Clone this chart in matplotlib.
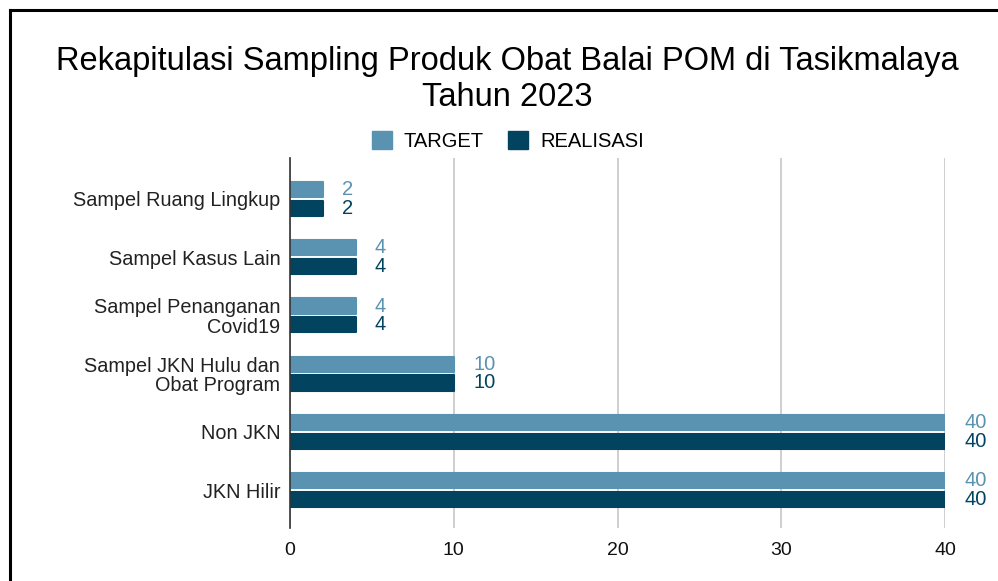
import matplotlib
matplotlib.use("Agg")
import matplotlib.pyplot as plt
import numpy as np
from matplotlib.lines import Line2D
from matplotlib.patches import Patch

plt.rcParams["font.family"] = ["Liberation Sans", "DejaVu Sans"]

categories = [
    "Sampel Ruang Lingkup",
    "Sampel Kasus Lain",
    "Sampel Penanganan\nCovid19",
    "Sampel JKN Hulu dan\nObat Program",
    "Non JKN",
    "JKN Hilir",
]
target = [2, 4, 4, 10, 40, 40]
realisasi = [2, 4, 4, 10, 40, 40]
series_names = ["TARGET", "REALISASI"]
x_ticks = [0, 10, 20, 30, 40]

c_target = "#5a93b1"
c_real = "#02445f"

fig = plt.figure(figsize=(9.98, 5.81), dpi=100)
ax = fig.add_axes([0.2906, 0.0912, 0.6563, 0.6368])

y = np.arange(len(categories))
h = 0.26
off = 0.16
for vals, shift, color in ((target, -off, c_target), (realisasi, off, c_real)):
    ax.barh(y + shift, vals, height=h, color=color, edgecolor=color,
            linewidth=1.5, joinstyle="round", zorder=3)
    for yi, v in zip(y, vals):
        ax.annotate(str(v), (v, yi + shift), xytext=(14, 0), textcoords="offset points",
                    ha="left", va="center", fontsize=14.5, color=color)

ax.set_xlim(0, 40)
ax.set_ylim(5.65, -0.70)
ax.set_yticks(y)
ax.set_yticklabels(categories, fontsize=14.3, color="#222222", linespacing=1.05)
ax.set_xticks(x_ticks)
ax.set_xticklabels([str(t) for t in x_ticks], fontsize=14, color="#111111")
ax.tick_params(axis="y", length=0, pad=7)
ax.tick_params(axis="x", length=0, pad=10)
ax.grid(axis="x", color="#cccccc", linewidth=1.3, zorder=0)
for side in ("top", "right", "bottom"):
    ax.spines[side].set_visible(False)
ax.spines["left"].set_color("#333333")
ax.spines["left"].set_linewidth(1.2)
ax.spines["left"].set_zorder(4)

fig.text(0.508, 0.863, "Rekapitulasi Sampling Produk Obat Balai POM di Tasikmalaya\nTahun 2023",
         ha="center", va="center", fontsize=23.5, color="#000000", linespacing=1.2)

handles = [Patch(facecolor=c_target, edgecolor=c_target),
           Patch(facecolor=c_real, edgecolor=c_real)]
fig.legend(handles, series_names, loc="center", bbox_to_anchor=(0.509, 0.757),
           ncol=2, frameon=False, fontsize=14.5, handlelength=1.0, handleheight=1.0,
           columnspacing=1.2, handletextpad=0.6)

# frame lines (top and left only visible in the crop)
fig.add_artist(Line2D([0.010, 1.0], [1 - 10 / 581, 1 - 10 / 581], color="black", linewidth=2.2))
fig.add_artist(Line2D([0.010, 0.010], [0.0, 1 - 10 / 581], color="black", linewidth=2.2))

fig.savefig("out.png", dpi=100)
